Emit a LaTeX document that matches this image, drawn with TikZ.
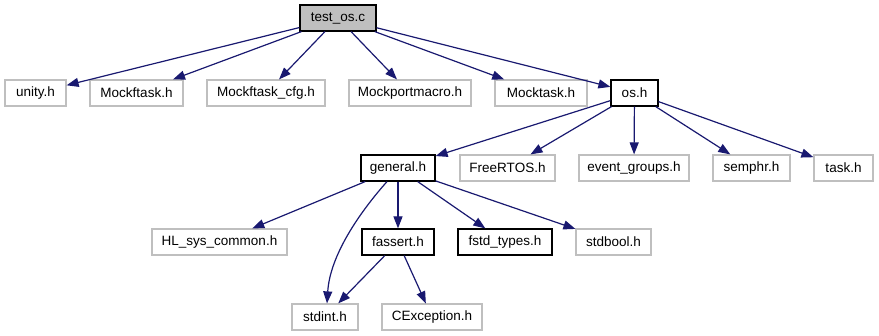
\documentclass[tikz,border=0pt]{standalone}
\usepackage{fontspec}
\setmainfont{Liberation Sans}
\usetikzlibrary{arrows.meta,positioning,calc}
\definecolor{edgeblue}{HTML}{191970}
\definecolor{extgray}{HTML}{BFBFBF}
\definecolor{rootfill}{HTML}{BFBFBF}

\begin{document}
\begin{tikzpicture}[
  x=1pt,y=-1pt,
  every node/.style={font=\fontsize{13.5}{16}\selectfont,inner sep=0pt,minimum height=26pt},
  ext/.style={rectangle,draw=extgray,line width=1.2pt},
  doc/.style={rectangle,draw=black,line width=1.2pt},
  root/.style={rectangle,draw=black,fill=rootfill,line width=1.2pt},
  dep/.style={-{Triangle[length=12pt,width=9pt]},line width=1.2pt,edgeblue}
]
\useasboundingbox (0,0) rectangle (879,336);
% top level
\node[root,minimum width=76pt] (testos) at (338,18) {test\_os.c};
\node[ext,minimum width=61pt] (unity) at (35.5,93) {unity.h};
\node[ext,minimum width=93pt] (mftask) at (136.5,93) {Mockftask.h};
\node[ext,minimum width=118pt] (mftaskcfg) at (266,93) {Mockftask\_cfg.h};
\node[ext,minimum width=122pt] (mportmacro) at (410,93) {Mockportmacro.h};
\node[ext,minimum width=92pt] (mtask) at (541,93) {Mocktask.h};
\node[doc,minimum width=47pt] (os) at (634.5,93) {os.h};
% includes of os.h
\node[doc,minimum width=74pt] (general) at (398,168) {general.h};
\node[ext,minimum width=95pt] (freertos) at (507.5,168) {FreeRTOS.h};
\node[ext,minimum width=110pt] (evgroups) at (634,168) {event\_groups.h};
\node[ext,minimum width=77pt] (semphr) at (751.5,168) {semphr.h};
\node[ext,minimum width=59pt] (task) at (843.5,168) {task.h};
% includes of general.h
\node[ext,minimum width=135pt] (hlsys) at (219.5,242) {HL\_sys\_common.h};
\node[doc,minimum width=72pt] (fassert) at (398,242) {fassert.h};
\node[doc,minimum width=94pt] (fstd) at (505,242) {fstd\_types.h};
\node[ext,minimum width=75pt] (stdbool) at (613.5,242) {stdbool.h};
\node[ext,minimum width=66pt] (stdint) at (325,317) {stdint.h};
\node[ext,minimum width=100pt] (cexc) at (432,317) {CException.h};

\foreach \t in {unity,mftask,mftaskcfg,mportmacro,mtask,os}
  \draw[dep] (testos) -- (\t);
\foreach \t in {general,freertos,evgroups,semphr,task}
  \draw[dep] (os) -- (\t);
\foreach \t in {hlsys,fassert,fstd,stdbool}
  \draw[dep] (general) -- (\t);
\draw[dep] ([xshift=-11pt]general.south) .. controls (360,212) and (330,255) .. ([xshift=2pt]stdint.north);
\draw[dep] (fassert) -- (stdint);
\draw[dep] (fassert) -- (cexc);
\end{tikzpicture}
\end{document}
